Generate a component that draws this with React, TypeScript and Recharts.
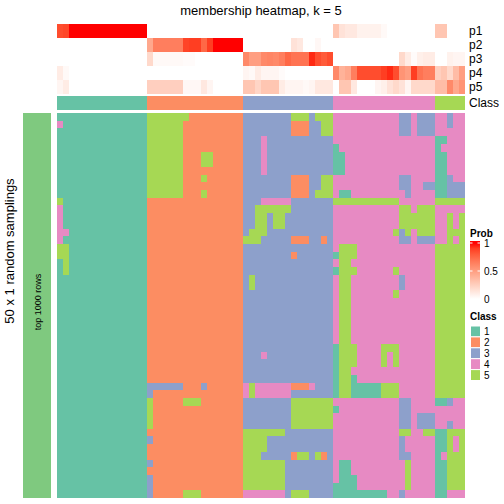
// @ts-nocheck
import React from 'react';
import { Bar, BarChart, Cell, XAxis, YAxis } from 'recharts';

// Set2 palette used by the class annotation
const classColors = { 1: '#66C2A5', 2: '#FC8D62', 3: '#8DA0CB', 4: '#E78AC3', 5: '#A6D854' };
const classLabels = ['1', '2', '3', '4', '5'];
const probTicks = ['1', '0.5', '0'];
const topRowLabels = ['p1', 'p2', 'p3', 'p4', 'p5', 'Class'];

// consensus class of each of the 68 samples
const sampleClass = '111111111111111 2222222222222222 333333333333333 44444444444444444 55555';

// membership probabilities per sample
const p1 = [
  0.85, 0.87, 1, 1, 1, 1, 1, 1, 1, 1, 1, 1, 1, 1, 1,
  0, 0, 0, 0, 0, 0, 0, 0, 0, 0, 0, 0, 0, 0, 0, 0,
  0, 0, 0, 0, 0, 0, 0, 0, 0, 0, 0, 0, 0, 0, 0,
  0.3, 0.15, 0.12, 0.12, 0.07, 0.07, 0.07, 0.07, 0.03, 0, 0, 0, 0, 0, 0, 0, 0,
  0.3, 0.3, 0, 0, 0,
];
const p2 = [
  0, 0, 0, 0, 0, 0, 0, 0, 0, 0, 0, 0, 0, 0, 0,
  0.45, 0.65, 0.65, 0.65, 0.65, 0.65, 0.88, 0.9, 0.9, 0.75, 0.9, 1, 1, 1, 1, 1,
  0, 0, 0, 0, 0, 0, 0, 0, 0.15, 0.12, 0, 0, 0.04, 0, 0,
  0, 0, 0, 0, 0, 0, 0, 0, 0, 0, 0, 0, 0, 0, 0, 0, 0,
  0, 0, 0, 0, 0,
];
const p3 = [
  0, 0, 0, 0, 0, 0, 0, 0, 0, 0, 0, 0, 0, 0, 0,
  0.2, 0.03, 0.03, 0.03, 0.03, 0.03, 0.02, 0.02, 0, 0, 0, 0, 0, 0, 0, 0,
  0.6, 0.5, 0.5, 0.6, 0.62, 0.6, 0.65, 0.75, 0.7, 0.7, 0.7, 0.95, 0.85, 0.8, 0.85,
  0, 0, 0, 0, 0, 0, 0, 0, 0, 0, 0, 0.2, 0.1, 0.02, 0.08, 0.1, 0.1,
  0, 0, 0.07, 0.05, 0.05,
];
const p4 = [
  0.1, 0.03, 0, 0, 0, 0, 0, 0, 0, 0, 0, 0, 0, 0, 0,
  0, 0, 0, 0, 0, 0, 0, 0, 0, 0, 0, 0, 0, 0, 0, 0,
  0.05, 0.03, 0.1, 0.05, 0.05, 0.05, 0.02, 0, 0, 0, 0, 0, 0, 0, 0,
  0.6, 0.4, 0.45, 0.65, 0.85, 0.85, 0.85, 0.85, 0.9, 0.95, 0.85, 0.55, 0.5, 0.9, 0.7, 0.65, 0.65,
  0.25, 0.3, 0.2, 0.35, 0.5,
];
const p5 = [
  0.05, 0.1, 0, 0, 0, 0, 0, 0, 0, 0, 0, 0, 0, 0, 0,
  0.25, 0.25, 0.25, 0.25, 0.25, 0.25, 0.04, 0.04, 0.04, 0.12, 0.05, 0, 0, 0, 0, 0,
  0.3, 0.3, 0.22, 0.3, 0.3, 0.3, 0.1, 0.05, 0.05, 0.05, 0.03, 0.05, 0.12, 0.12, 0.12,
  0, 0.3, 0.3, 0.12, 0, 0, 0, 0.05, 0.08, 0.15, 0.2, 0.15, 0.05, 0.2, 0.2, 0.2, 0.2,
  0.35, 0.35, 0.6, 0.45, 0.55,
];

// class assigned in each of the 50 random samplings (rows) for every sample (columns)
const samplingRows = [
  '111111111111111 5555555222222222 333333335553555 44444444444334333 44344',
  '411111111111111 5555552222222222 333333332223355 44444444444334333 44344',
  '111111111111111 5555552222222222 333333332223355 44444444444334333 44444',
  '111111111111111 5555552222222222 333433333333333 44444444444444444 11444',
  '111111111111111 5555552222222222 333433333333333 14444444444444444 14444',
  '111111111111111 5555552225522222 333433333333333 11444444444444444 11444',
  '111111111111111 5555552225522222 333433333333333 11444444444444444 11444',
  '111111111111111 5555552222222222 333433333333333 11444444444444444 11444',
  '111111111111111 5555552225222222 333333332223355 44444444444334444 11344',
  '111111111111111 5555552222222222 333333332223355 44444444444334433 11333',
  '111111111111111 5555552225222222 333333332223555 41144444444434444 11333',
  '511111111111111 2222222222222222 333444443333333 55555555555444444 55555',
  '411111111111111 2222222222222222 335555553333333 44444444444554555 44444',
  '411111111111111 2222222222222222 335535533333333 44444444444555555 44545',
  '411111111111111 2222222222222222 335535533333333 44444444444555555 44545',
  '441111111111111 2222222222222222 355533333333333 44444444445354555 44555',
  '411111111111111 2222222222222222 555333332223323 44444444444334333 44545',
  '551111111111111 2222222222222222 333333333333333 45554444444444444 55555',
  '551111111111111 2222222222222222 333333332333333 15554444444444444 55555',
  '151111111111111 2222222222222222 333333333333333 45544444444444444 55555',
  '151111111111111 2222222222222222 333333333333333 15554444445444444 55555',
  '111111111111111 2222222222222222 353333333333333 45544444444344444 55555',
  '111111111111111 2222222222222222 353333333333333 45544444444344444 55555',
  '111111111111111 2222222222222222 333333333333333 45544444445444444 55555',
  '111111111111111 2222222222222222 333333333333333 45544444444444444 55555',
  '111111111111111 2222222222222222 333333333333333 45544444444444444 55555',
  '111111111111111 2222222222222222 333333333333333 45544444444444444 55555',
  '111111111111111 2222222222222222 333333333333333 45544444444444444 55555',
  '111111111111111 2222222222222222 333333333333333 45544444444444444 55555',
  '111111111111111 2222222222222222 333333333333333 45544444444444444 55555',
  '111111111111111 2222222222222222 333333333333333 15554444555444444 55555',
  '111111111111111 2222222222222222 333433333333333 15554444545444444 55555',
  '111111111111111 2222222222222222 333333333333333 15554444545444444 55555',
  '111111111111111 2222222222222222 333333333333333 15544444444444444 55555',
  '111111111111111 2222222222222222 333333333333333 15514444444444444 55555',
  '111111111111111 3333332223222222 454444442224333 15511111555444444 55555',
  '111111111111111 3222222222222222 454444443333333 15511111555444444 55555',
  '111111111111111 5222225552222222 333333335555555 44444444444334444 11344',
  '111111111111111 5222222222222222 333333335555555 14444444444334444 44444',
  '111111111111111 5222222222222222 333333335555555 44444444444334333 44444',
  '111111111111111 5222222222222222 333333335555555 44444444444334333 44344',
  '111111111111111 2222222222222222 555555533333333 44444444444554455 11555',
  '111111111111111 3222222222222222 555533333333333 44444444444344444 11545',
  '111111111111111 2222222222222222 555533333333333 44444444444344444 11545',
  '111111111111111 2222222222222222 555333332553523 44444444444334444 14555',
  '111111111111111 3222222222222222 555555533333333 41144444444454444 11555',
  '111111111111111 2222222222222222 555555533333333 41144444444454444 11555',
  '111111111111111 3222222222222222 555555533333333 41114444444454444 11555',
  '111111111111111 3222222222222222 555555533333333 11114444444454444 11555',
  '111111111111111 3222225552222222 444444435553333 11111111144344444 11444',
];

// white -> red ramp interpolated in LAB, as colorRamp2 does
const toLin = (c) => {
  const v = c / 255;
  return v <= 0.04045 ? v / 12.92 : Math.pow((v + 0.055) / 1.055, 2.4);
};
const fromLin = (c) => {
  const v = c <= 0.0031308 ? 12.92 * c : 1.055 * Math.pow(c, 1 / 2.4) - 0.055;
  return Math.round(Math.min(1, Math.max(0, v)) * 255);
};
const WN = [0.95047, 1, 1.08883];
const fLab = (t) => (t > 216 / 24389 ? Math.cbrt(t) : ((24389 / 27) * t + 16) / 116);
const fInv = (t) => (t * t * t > 216 / 24389 ? t * t * t : (116 * t - 16) / (24389 / 27));

function rgbToLab([r, g, b]) {
  const R = toLin(r), G = toLin(g), B = toLin(b);
  const X = 0.4124564 * R + 0.3575761 * G + 0.1804375 * B;
  const Y = 0.2126729 * R + 0.7151522 * G + 0.072175 * B;
  const Z = 0.0193339 * R + 0.119192 * G + 0.9503041 * B;
  const fx = fLab(X / WN[0]), fy = fLab(Y / WN[1]), fz = fLab(Z / WN[2]);
  return [116 * fy - 16, 500 * (fx - fy), 200 * (fy - fz)];
}

function labToRgb([L, a, b]) {
  const fy = (L + 16) / 116;
  const fx = fy + a / 500;
  const fz = fy - b / 200;
  const X = fInv(fx) * WN[0], Y = fInv(fy) * WN[1], Z = fInv(fz) * WN[2];
  const R = 3.2404542 * X - 1.5371385 * Y - 0.4985314 * Z;
  const G = -0.969266 * X + 1.8760108 * Y + 0.041556 * Z;
  const B = 0.0556434 * X - 0.2040259 * Y + 1.0572252 * Z;
  return `rgb(${fromLin(R)},${fromLin(G)},${fromLin(B)})`;
}

const labWhite = rgbToLab([255, 255, 255]);
const labRed = rgbToLab([255, 0, 0]);
const probColor = (p) => labToRgb(labWhite.map((w, k) => w + (labRed[k] - w) * p));

const classes = sampleClass.replace(/ /g, '').split('').map(Number);
const grid = samplingRows.map((row) => row.replace(/ /g, '').split('').map(Number));
const probRows = [p1, p2, p3, p4, p5];

// stacked bar tables: each sample is one category, each heatmap row one stack segment
const topKeys = ['cls', 'gap', 'p5', 'p4', 'p3', 'p2', 'p1'];
const topData = classes.map((c, i) => ({
  col: i, cls: 14, gap: 2, p5: 14, p4: 14, p3: 14, p2: 14, p1: 14,
}));
const mainData = classes.map((c, i) => {
  const o = { col: i };
  grid.forEach((_, r) => { o['r' + r] = 1; });
  return o;
});

const font = '"Liberation Sans", Arial, Helvetica, sans-serif';

function topFill(key, i) {
  if (key === 'cls') return classColors[classes[i]];
  if (key === 'gap') return 'rgba(255,255,255,0)';
  return probColor(probRows[Number(key.slice(1)) - 1][i]);
}

export default function App() {
  const gradStops = [];
  for (let k = 0; k <= 10; k++) gradStops.push({ off: k / 10, color: probColor(1 - k / 10) });

  return (
    <div style={{ position: 'fixed', left: 0, top: 0, width: 504, height: 504, background: '#fff', fontFamily: font, shapeRendering: 'crispEdges' }}>
      <div style={{ position: 'absolute', left: 57, top: 24 }}>
        <BarChart width={408} height={86} data={topData} margin={{ top: 0, right: 0, bottom: 0, left: 0 }} barCategoryGap={0} barGap={0}>
          <XAxis dataKey="col" hide />
          <YAxis hide type="number" domain={[0, 86]} />
          {topKeys.map((key) => (
            <Bar key={key} dataKey={key} stackId="a" isAnimationActive={false}>
              {topData.map((d, i) => (
                <Cell key={i} fill={topFill(key, i)} />
              ))}
            </Bar>
          ))}
        </BarChart>
      </div>

      <div style={{ position: 'absolute', left: 57, top: 113 }}>
        <BarChart width={408} height={385} data={mainData} margin={{ top: 0, right: 0, bottom: 0, left: 0 }} barCategoryGap={0} barGap={0}>
          <XAxis dataKey="col" hide />
          <YAxis hide type="number" domain={[0, 50]} />
          {grid.map((_, k) => {
            const r = grid.length - 1 - k;
            return (
              <Bar key={r} dataKey={'r' + r} stackId="m" isAnimationActive={false}>
                {mainData.map((d, i) => (
                  <Cell key={i} fill={classColors[grid[r][i]]} />
                ))}
              </Bar>
            );
          })}
        </BarChart>
      </div>

      <svg width={504} height={504} style={{ position: 'absolute', left: 0, top: 0, pointerEvents: 'none', shapeRendering: 'auto' }}>
        <defs>
          <linearGradient id="probGrad" gradientUnits="userSpaceOnUse" x1="0" y1="243" x2="0" y2="299">
            {gradStops.map((s, i) => (
              <stop key={i} offset={s.off} stopColor={s.color} />
            ))}
          </linearGradient>
        </defs>

        <text x={261} y={15} textAnchor="middle" fontSize={13} fill="#000">membership heatmap, k = 5</text>

        {topRowLabels.map((t, i) => (
          <text key={t} x={469} y={(i < 5 ? 31 + i * 14 : 103) + 4} fontSize={12} fill="#000">{t}</text>
        ))}

        <text transform="translate(14,251) rotate(-90)" textAnchor="middle" fontSize={13} fill="#000">50 x 1 random samplings</text>
        <rect x={23} y={113} width={28} height={385} fill="#7FC97F" />
        <text transform="translate(41,302) rotate(-90)" textAnchor="middle" fontSize={9} fill="#000">top 1000 rows</text>

        <text x={470} y={237} fontSize={10} fontWeight="bold" fill="#000">Prob</text>
        <rect x={470} y={241} width={10} height={59} fill="url(#probGrad)" />
        {[243, 271].map((y) => (
          <g key={y} stroke="#fff" strokeWidth={1}>
            <line x1={470} x2={472.5} y1={y} y2={y} />
            <line x1={477.5} x2={480} y1={y} y2={y} />
          </g>
        ))}
        {probTicks.map((t, i) => (
          <text key={t} x={484} y={243 + i * 28 + 3.5} fontSize={10} fill="#000">{t}</text>
        ))}

        <text x={470} y={320} fontSize={10} fontWeight="bold" fill="#000">Class</text>
        {classLabels.map((t, i) => (
          <g key={t}>
            <rect x={470.5} y={326 + i * 10.9} width={10} height={10.9} fill={classColors[i + 1]} stroke="#fff" strokeWidth={1} />
            <text x={484} y={326 + i * 10.9 + 5.45 + 3.5} fontSize={10} fill="#000">{t}</text>
          </g>
        ))}
      </svg>
    </div>
  );
}
